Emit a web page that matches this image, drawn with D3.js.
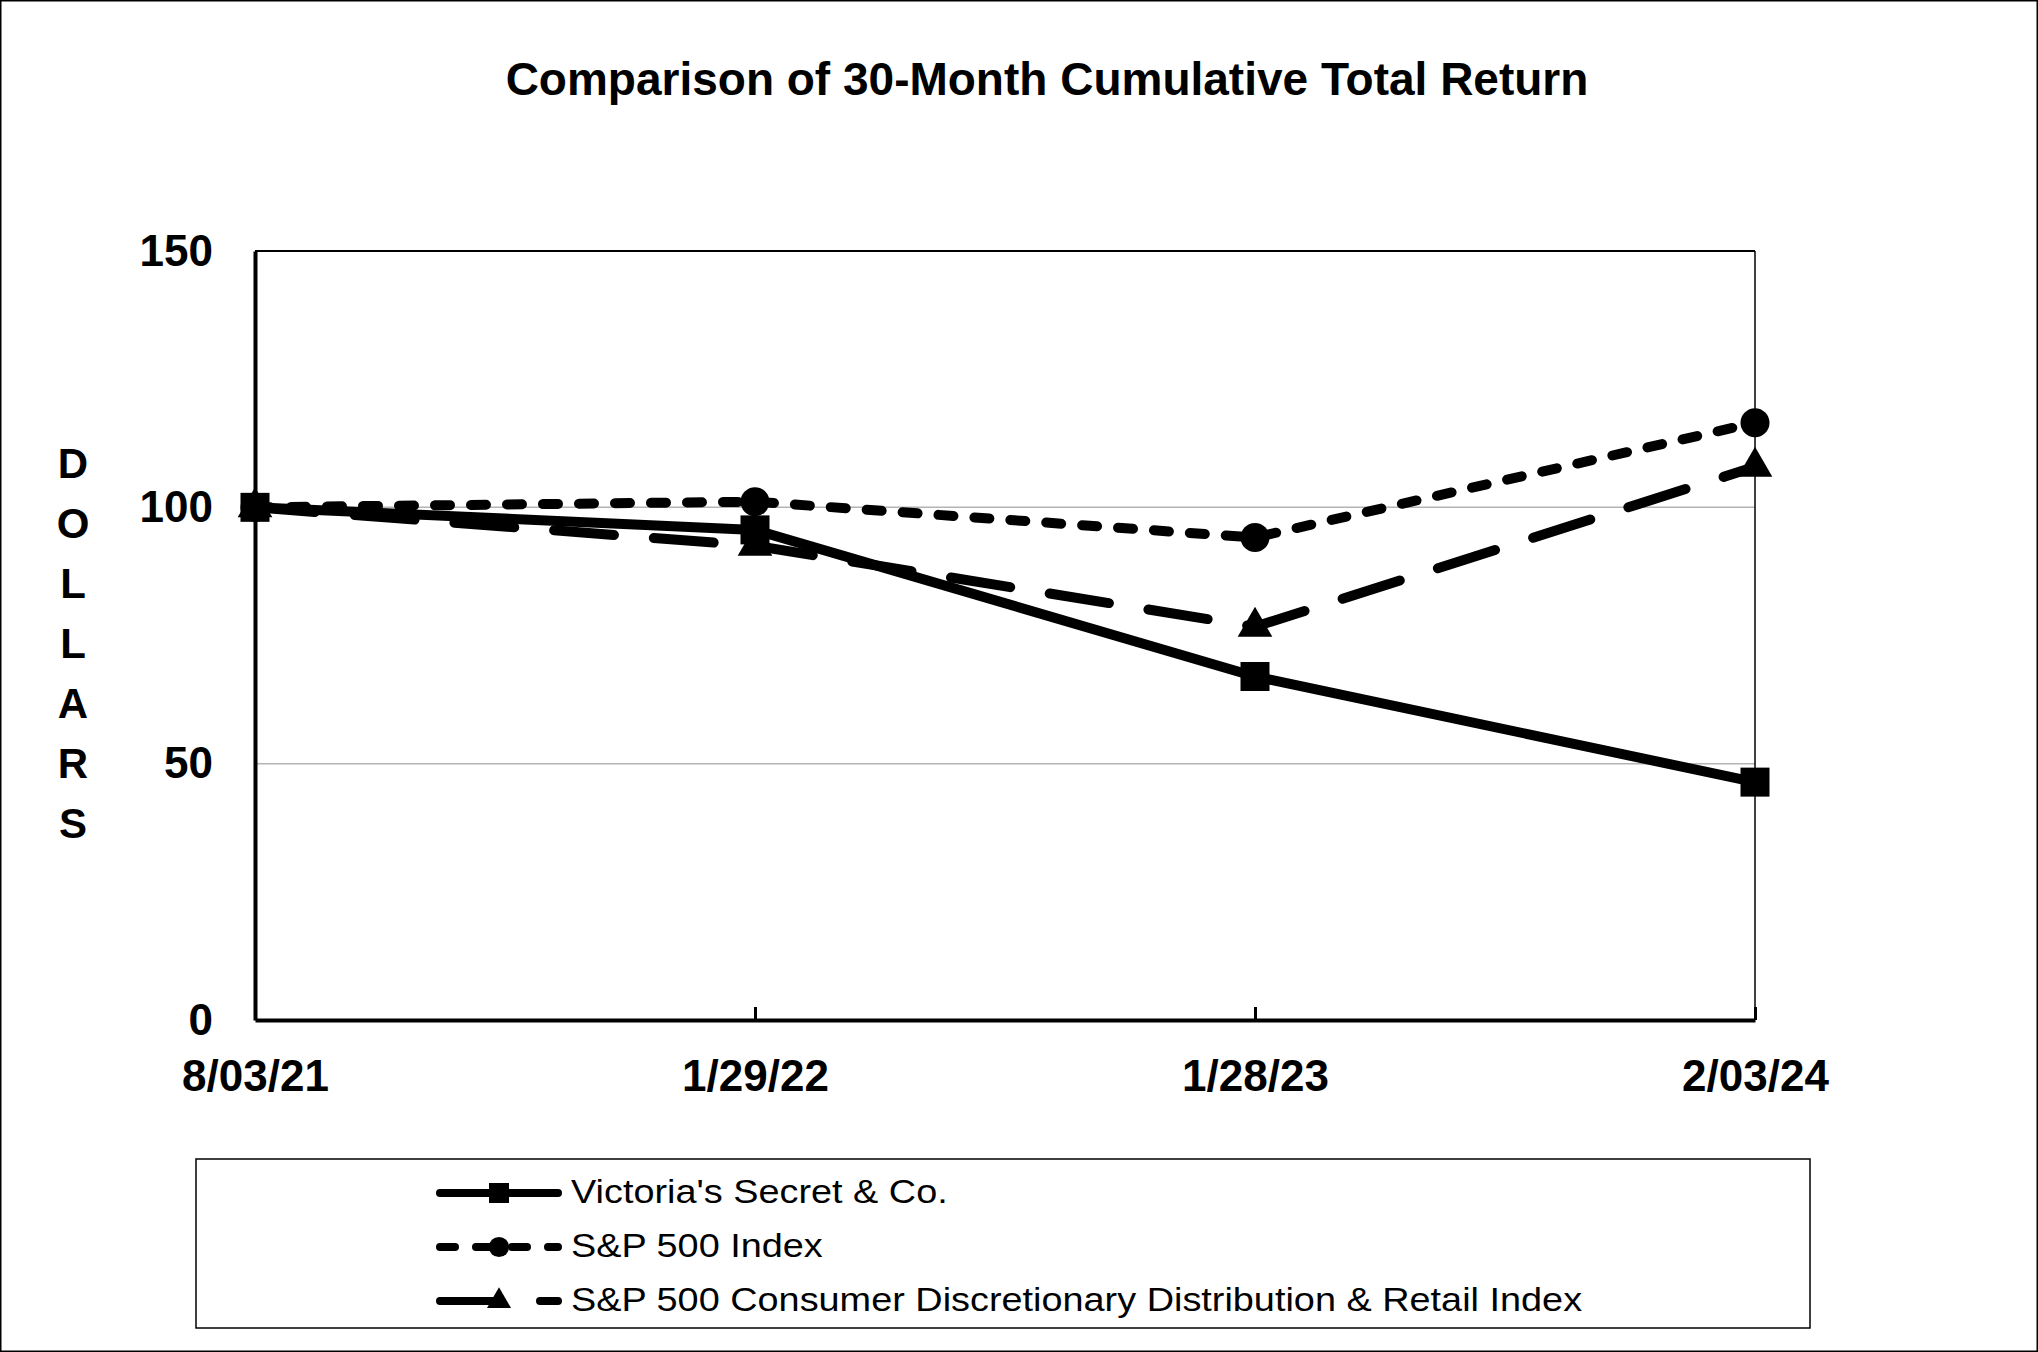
<!DOCTYPE html>
<html>
<head>
<meta charset="utf-8">
<script src="https://cdn.jsdelivr.net/npm/d3@7"></script>
<style>
  body { margin: 0; background: #fff; }
  text { font-family: "Liberation Sans", Arial, sans-serif; fill: #000; }
</style>
</head>
<body>
<script>
var w = 2038;
var h = 1352;

// data
var dates = ["8/03/21", "1/29/22", "1/28/23", "2/03/24"];
var victoriasSecret = [100, 95.6, 67.0, 46.4];
var sp500 = [100, 101.1, 94.1, 116.5];
var spConsumer = [100, 92.5, 76.7, 107.9];
var seriesNames = ["Victoria's Secret & Co.", "S&P 500 Index", "S&P 500 Consumer Discretionary Distribution & Retail Index"];
var yTicks = [0, 50, 100, 150];
var gridValues = [50, 100];

var margin = { top: 251, bottom: 332, left: 255, right: 283 };

var svg = d3.select("body")
  .append("svg")
  .attr("width", w)
  .attr("height", h);

// outer frame
svg.append("rect")
  .attr("x", 0.75).attr("y", 0.75)
  .attr("width", w - 1.5).attr("height", h - 1.5)
  .attr("fill", "none").attr("stroke", "#000").attr("stroke-width", 1.5);

var x = d3.scalePoint()
  .domain(dates)
  .range([margin.left, w - margin.right]);

var y = d3.scaleLinear()
  .domain([0, 150])
  .range([h - margin.bottom, margin.top]);

// title
svg.append("text")
  .attr("x", 1047)
  .attr("y", 95)
  .attr("text-anchor", "middle")
  .style("font-size", "46px")
  .style("font-weight", "bold")
  .text("Comparison of 30-Month Cumulative Total Return");

// gridlines
svg.selectAll(".grid")
  .data(gridValues)
  .enter()
  .append("line")
  .attr("class", "grid")
  .attr("x1", x.range()[0]).attr("x2", x.range()[1])
  .attr("y1", d => y(d)).attr("y2", d => y(d))
  .attr("stroke", "#b4b4b4")
  .attr("stroke-width", 1.5);

// thin top and right border of plot
svg.append("line")
  .attr("x1", x.range()[0]).attr("x2", x.range()[1])
  .attr("y1", y(150)).attr("y2", y(150))
  .attr("stroke", "#000").attr("stroke-width", 2);
svg.append("line")
  .attr("x1", x.range()[1]).attr("x2", x.range()[1])
  .attr("y1", y(150)).attr("y2", y(0))
  .attr("stroke", "#000").attr("stroke-width", 1.5);

// y axis
var yAxis = svg.append("g")
  .attr("transform", "translate(" + margin.left + ",0)")
  .call(d3.axisLeft(y).tickValues(yTicks).tickSize(0).tickPadding(42));
yAxis.select(".domain").attr("stroke-width", 4);
yAxis.selectAll("text")
  .style("font-family", "'Liberation Sans', Arial, sans-serif")
  .style("font-size", "44px")
  .style("font-weight", "bold");

// x axis
var xAxis = svg.append("g")
  .attr("transform", "translate(0," + y(0) + ")")
  .call(d3.axisBottom(x).tickSizeInner(-13).tickSizeOuter(0).tickPadding(40));
xAxis.select(".domain").attr("stroke-width", 4);
xAxis.selectAll(".tick line").attr("stroke-width", 3);
xAxis.selectAll("text")
  .style("font-family", "'Liberation Sans', Arial, sans-serif")
  .style("font-size", "44px")
  .style("font-weight", "bold");

// vertical DOLLARS label
svg.selectAll(".ylabel")
  .data("DOLLARS".split(""))
  .enter()
  .append("text")
  .attr("class", "ylabel")
  .attr("x", 73)
  .attr("y", (d, i) => 478 + i * 60)
  .attr("text-anchor", "middle")
  .style("font-size", "42px")
  .style("font-weight", "bold")
  .text(d => d);

var series = [
  { name: seriesNames[0], values: victoriasSecret, dash: null, symbol: d3.symbolSquare, size: 841, legSize: 400 },
  { name: seriesNames[1], values: sp500, dash: "15,21", symbol: d3.symbolCircle, size: 660, legSize: 320 },
  { name: seriesNames[2], values: spConsumer, dash: "60,40", symbol: d3.symbolTriangle, size: 520, legSize: 250 }
];

var line = d3.line()
  .x((d, i) => x(dates[i]))
  .y(d => y(d));

series.forEach(function(s) {
  svg.append("path")
    .attr("d", line(s.values))
    .attr("fill", "none")
    .attr("stroke", "#000")
    .attr("stroke-width", 10)
    .attr("stroke-linecap", "round")
    .attr("stroke-linejoin", "round")
    .attr("stroke-dasharray", s.dash);

  svg.selectAll(null)
    .data(s.values)
    .enter()
    .append("path")
    .attr("transform", (d, i) => "translate(" + x(dates[i]) + "," + y(d) + ")")
    .attr("d", d3.symbol().type(s.symbol).size(s.size))
    .attr("fill", "#000");
});

// legend
svg.append("rect")
  .attr("x", 196).attr("y", 1159)
  .attr("width", 1614).attr("height", 169)
  .attr("fill", "none").attr("stroke", "#000").attr("stroke-width", 1.5);

var legend = svg.selectAll(".legend")
  .data(series)
  .enter()
  .append("g")
  .attr("class", "legend")
  .attr("transform", (d, i) => "translate(0," + (1193 + i * 54) + ")");

legend.append("line")
  .attr("x1", 440).attr("x2", 558)
  .attr("y1", 0).attr("y2", 0)
  .attr("stroke", "#000")
  .attr("stroke-width", 8)
  .attr("stroke-linecap", "round")
  .attr("stroke-dasharray", d => d.dash);

legend.append("path")
  .attr("transform", "translate(499,0)")
  .attr("d", d => d3.symbol().type(d.symbol).size(d.legSize)())
  .attr("fill", "#000");

legend.append("text")
  .attr("transform", "translate(571,10) scale(1.13,1)")
  .style("font-size", "33.5px")
  .text(d => d.name);
</script>
</body>
</html>
